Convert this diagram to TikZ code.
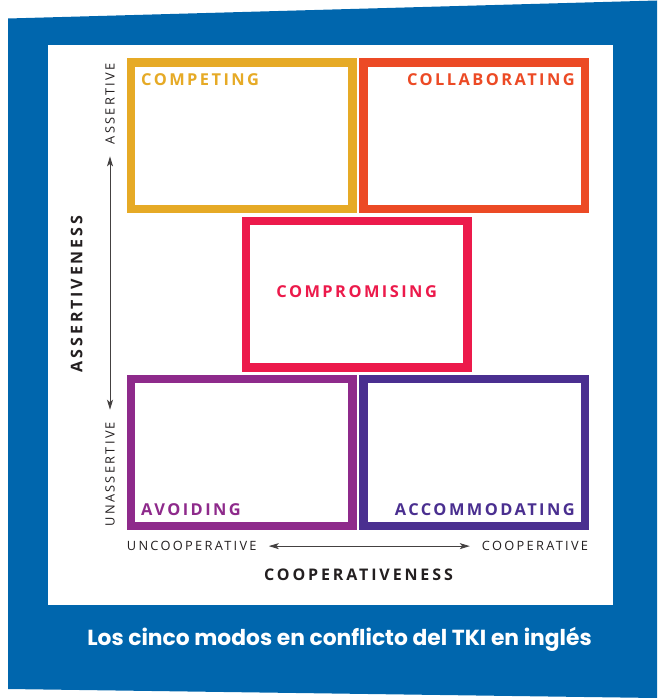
\documentclass[tikz,border=0pt]{standalone}
\usepackage{fontspec}
\setmainfont{Open Sans}
\newfontfamily\modefont[LetterSpace=15]{Open Sans}
\newfontfamily\axisfont[LetterSpace=18]{Open Sans}
\newfontfamily\capfont{Poppins}
\usetikzlibrary{arrows.meta, positioning}

\definecolor{tkiblue}{HTML}{0066AD}
\definecolor{ink}{HTML}{231F20}
\definecolor{competecol}{HTML}{E6AA26}
\definecolor{collabcol}{HTML}{EC4A25}
\definecolor{compromcol}{HTML}{EC1A4B}
\definecolor{avoidcol}{HTML}{8E2A8B}
\definecolor{accomcol}{HTML}{4A2F90}

\begin{document}
\begin{tikzpicture}[
  x=1pt, y=-1pt,
  mode/.style={draw=#1, line width=8.3pt, minimum width=221.7pt,
    minimum height=146.7pt, inner sep=0pt, outer sep=4.15pt},
  modename/.style={text=#1, inner sep=0pt,
    font=\modefont\bfseries\fontsize{16.4}{18}\selectfont},
  axisname/.style={text=ink, inner sep=0pt,
    font=\axisfont\fontsize{12.8}{14}\selectfont},
  axistitle/.style={text=ink, inner sep=0pt,
    font=\axisfont\bfseries\fontsize{16}{18}\selectfont},
  axis/.style={{Stealth[length=10pt,width=6pt,inset=2.5pt]}-{Stealth[length=10pt,width=6pt,inset=2.5pt]},
    draw=ink!85, line width=0.9pt, shorten <=12pt, shorten >=12pt}
]
\useasboundingbox (0,0) rectangle (657,698);
\fill[tkiblue] (8,18.5) -- (657,0.5) -- (657,698) -- (8,689) -- cycle;
\fill[white] (48,45) rectangle (613,605);

% the five modes
\node[mode=competecol] (compete) at (241.7,135.8) {};
\node[mode=collabcol, right=2.6pt of compete] (collab) {};
\node[mode=avoidcol, below=161.7pt of compete] (avoid) {};
\node[mode=accomcol, right=2.6pt of avoid] (accom) {};
\node[mode=compromcol] (comprom) at (356.7,294.2) {};

\node[modename=competecol, anchor=base west] (competetxt)
  at ([shift={(14.3,27.4)}]compete.north west) {COMPETING};
\node[modename=collabcol, anchor=base east] (collabtxt)
  at ([shift={(-14.3,27.4)}]collab.north east) {COLLABORATING};
\node[modename=compromcol, anchor=base] (compromtxt)
  at ([shift={(0,3.5)}]comprom.center) {COMPROMISING};
\node[modename=avoidcol, anchor=base west] (avoidtxt)
  at ([shift={(14.3,-15)}]avoid.south west) {AVOIDING};
\node[modename=accomcol, anchor=base east] (accomtxt)
  at ([shift={(-14.3,-15)}]accom.south east) {ACCOMMODATING};

% axes
\node[axisname, rotate=90, anchor=east] (assert) at (110,63) {ASSERTIVE};
\node[axisname, rotate=90, anchor=west] (unassert) at (110,526.7) {UNASSERTIVE};
\node[axisname, anchor=base west] (uncoop) at (126.7,550.7) {UNCOOPERATIVE};
\node[axisname, anchor=base east] (coop) at (588.3,550.7) {COOPERATIVE};
\draw[axis] (assert.west) -- (unassert.east);
\draw[axis] (uncoop.east) -- (coop.west);

\node[axistitle, rotate=90] (assertness) at (76.7,294) {ASSERTIVENESS};
\node[axistitle, anchor=base] (coopness) at (358.5,580) {COOPERATIVENESS};

\node[text=white, inner sep=0pt, anchor=base,
  font=\capfont\bfseries\fontsize{21.8}{24}\selectfont] (caption)
  at (339.5,645) {Los cinco modos en conflicto del TKI en inglés};
\end{tikzpicture}
\end{document}
